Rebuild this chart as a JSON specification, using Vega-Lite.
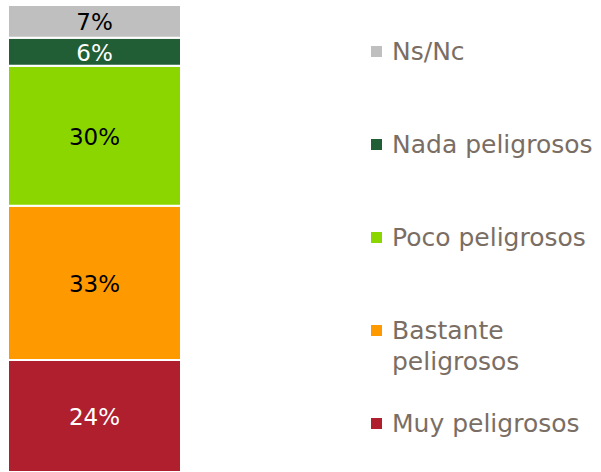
{
  "$schema": "https://vega.github.io/schema/vega-lite/v6.json",
  "width": 173,
  "height": 467,
  "autosize": {"type": "none"},
  "padding": {"left": 8, "top": 5, "right": 420, "bottom": 0},
  "background": "white",
  "config": {
    "view": {"stroke": null},
    "font": "DejaVu Sans",
    "style": {"guide-label": {"lineHeight": 31}}
  },
  "data": {
    "values": [
      {"group": "A", "categoria": "Muy peligrosos", "pct": 24, "rank": 1, "etiqueta": "24%"},
      {"group": "A", "categoria": "Bastante peligrosos", "pct": 33, "rank": 2, "etiqueta": "33%"},
      {"group": "A", "categoria": "Poco peligrosos", "pct": 30, "rank": 3, "etiqueta": "30%"},
      {"group": "A", "categoria": "Nada peligrosos", "pct": 6, "rank": 4, "etiqueta": "6%"},
      {"group": "A", "categoria": "Ns/Nc", "pct": 7, "rank": 5, "etiqueta": "7%"}
    ]
  },
  "encoding": {
    "x": {"field": "group", "type": "nominal", "axis": null, "scale": {"paddingInner": 0, "paddingOuter": 0}},
    "y": {"field": "pct", "type": "quantitative", "stack": "zero", "axis": null, "scale": {"domain": [0, 100], "nice": false}},
    "order": {"field": "rank", "type": "quantitative"}
  },
  "layer": [
    {
      "mark": {"type": "bar", "stroke": "white", "strokeWidth": 2},
      "encoding": {
        "color": {
          "field": "categoria",
          "type": "nominal",
          "scale": {
            "domain": ["Ns/Nc", "Nada peligrosos", "Poco peligrosos", "Bastante peligrosos", "Muy peligrosos"],
            "range": ["#bfbfbf", "#215e36", "#8cd600", "#ff9900", "#af1f2e"]
          },
          "legend": {
            "title": null,
            "orient": "none",
            "legendX": 356,
            "legendY": 34,
            "symbolType": "square",
            "symbolSize": 121,
            "symbolStrokeWidth": 0,
            "labelFontSize": 25,
            "labelColor": "#7a6e64",
            "labelFont": "DejaVu Sans",
            "labelOffset": 3,
            "labelLimit": 400,
            "rowPadding": 36,
            "labelExpr": "datum.label == 'Bastante peligrosos' ? ['Bastante', 'peligrosos'] : [datum.label, ' ']"
          }
        }
      }
    },
    {
      "mark": {"type": "text", "fontSize": 23, "baseline": "middle", "align": "center", "dy": 2},
      "encoding": {
        "y": {"field": "pct", "type": "quantitative", "stack": "zero", "bandPosition": 0.5},
        "text": {"field": "etiqueta", "type": "nominal"},
        "color": {
          "condition": {"test": "datum.categoria == 'Nada peligrosos' || datum.categoria == 'Muy peligrosos'", "value": "#ffffff"},
          "value": "#000000"
        }
      }
    }
  ]
}
